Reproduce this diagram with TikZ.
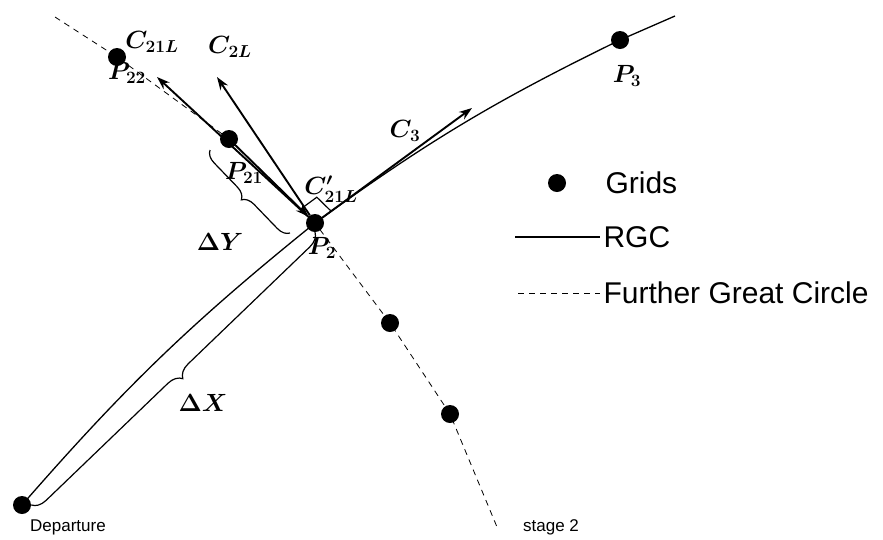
\documentclass[tikz,border=0pt]{standalone}
\usepackage{amsmath,amssymb}
\usepackage{fontspec}
\setsansfont{Liberation Sans}
\usepackage{tikz}
\usetikzlibrary{arrows.meta, calc, decorations.pathreplacing}

\begin{document}
\begin{tikzpicture}[x=1pt, y=-1pt,
    gridpt/.style={circle, fill=black, inner sep=0pt, minimum size=18pt},
    rgc/.style={line width=1.3pt},
    further/.style={line width=0.8pt, dash pattern=on 6pt off 5pt},
    vec/.style={-{Stealth[length=13pt, width=9pt]}, line width=1.9pt},
    bracemark/.style={decorate, decoration={brace, amplitude=#1}, line width=1.2pt},
    lbl/.style={font=\fontsize{26}{30}\selectfont\boldmath, inner sep=1pt},
    txt/.style={font=\sffamily\fontsize{17}{20}\selectfont},
    legtext/.style={font=\sffamily\fontsize{30}{34}\selectfont, anchor=west}
]
\useasboundingbox (0,0) rectangle (883,539);

% Grid points
\node[gridpt] (p22) at (117,57) {};
\node[gridpt] (p21) at (229,139) {};
\node[gridpt] (p2) at (315,223) {};
\node[gridpt] (p3) at (620,40) {};
\node[gridpt] (dep) at (22,505) {};
\node[gridpt] (g1) at (390,323) {};
\node[gridpt] (g2) at (450,414) {};

% Free ends
\coordinate (gc-start) at (55,17);
\coordinate (gc-end) at (497,527);
\coordinate (rgc-end) at (675,16);
\coordinate (c21-tip) at (157,77);
\coordinate (c2-tip) at (217,77);
\coordinate (c3-tip) at (472,108);

% Further great circle
\draw[further] (gc-start) -- (p22.center) -- (p21.center) -- (p2.center)
    -- (g1.center) -- (g2.center) -- (gc-end);

% RGC
\draw[rgc] (dep.center) to[bend left=5] (p2.center);
\draw[rgc] (p2.center) to[bend left=5] (p3.center) -- (rgc-end);

% Course vectors
\draw[vec] (p2) -- (c21-tip);
\draw[vec] (p2) -- (c2-tip);
\draw[vec] (p21) -- (p2);
\draw[vec] (p2) -- (c3-tip);

% Right angle at P2
\coordinate (ra-a) at ($(p2.center)!20pt!(p21.center)$);
\coordinate (ra-b) at ($(p2.center)!20pt!(c3-tip)$);
\coordinate (ra-c) at ($(ra-a)+(ra-b)-(p2.center)$);
\draw[line width=1.2pt] (ra-a) -- (ra-c) -- (ra-b);

% Braces
\coordinate (dy-a) at (290,233);
\coordinate (dy-b) at (210,150);
\draw[bracemark=12pt] (dy-a) -- (dy-b);
\draw[bracemark=14pt] (p2.south) -- (dep.east);

% Labels
\node[lbl] (l-c21) at (152,42) {$C_{21L}$};
\node[lbl] (l-p22) at (127,73) {$P_{22}$};
\node[lbl] (l-c2) at (230,47) {$C_{2L}$};
\node[lbl] (l-p21) at (244,173) {$P_{21}$};
\node[lbl] (l-c21p) at (331,189) {$C'_{21L}$};
\node[lbl] (l-p2) at (322,248) {$P_{2}$};
\node[lbl] (l-c3) at (405,131) {$C_{3}$};
\node[lbl] (l-p3) at (627,76) {$P_{3}$};
\node[lbl] (l-dy) at (220,242) {$\Delta Y$};
\node[lbl] (l-dx) at (203,403) {$\Delta X$};
\node[txt] (l-dep) at (68,527) {Departure};
\node[txt] (l-st2) at (551,527) {stage 2};

% Legend
\node[gridpt] (leg-dot) at (557,183) {};
\node[legtext] (leg-grids) at (602,183) {Grids};
\coordinate (leg-a1) at (515,237);
\coordinate (leg-a2) at (600,237);
\draw[rgc] (leg-a1) -- (leg-a2);
\node[legtext] (leg-rgc) at (leg-a2) {RGC};
\coordinate (leg-b1) at (518,293);
\coordinate (leg-b2) at (600,293);
\draw[further] (leg-b1) -- (leg-b2);
\node[legtext] (leg-gc) at (leg-b2) {Further Great Circle};
\end{tikzpicture}
\end{document}
